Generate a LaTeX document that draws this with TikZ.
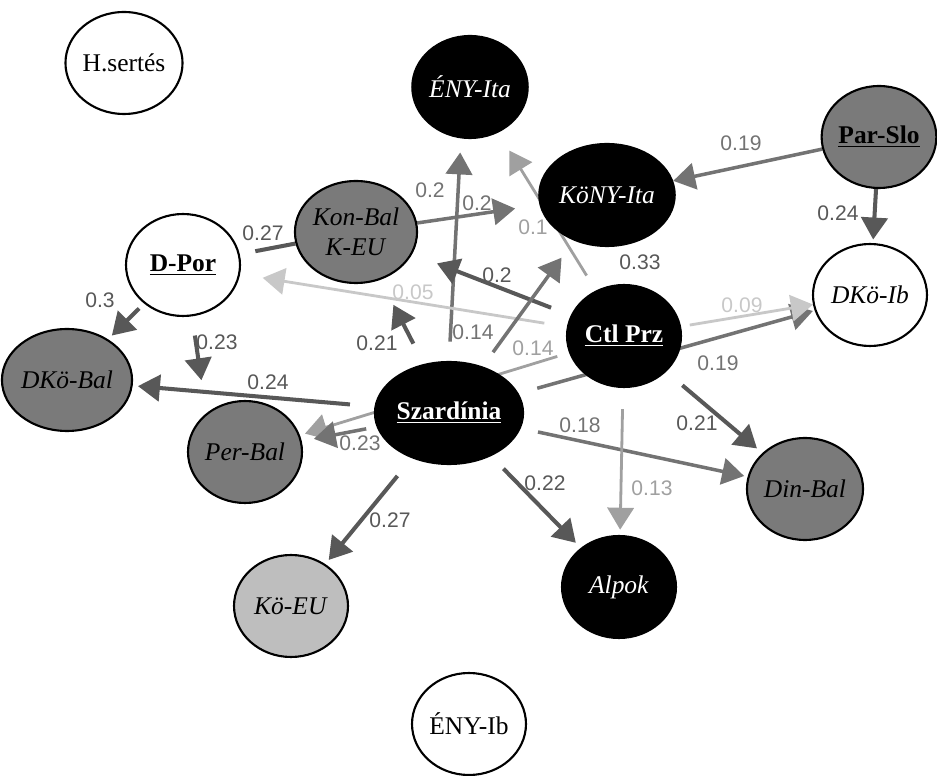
\documentclass[tikz,border=0pt]{standalone}
\usepackage{fontspec}
\setmainfont{Liberation Serif}
\setsansfont{Liberation Sans}
\usetikzlibrary{shapes.geometric,arrows.meta}
\pgfdeclarelayer{bg}
\pgfsetlayers{bg,main}
\definecolor{ndgray}{HTML}{7A7A7A}
\definecolor{ndlight}{HTML}{BEBEBE}
\definecolor{edark}{HTML}{585858}
\definecolor{emid}{HTML}{737373}
\definecolor{elight}{HTML}{A0A0A0}
\definecolor{efaint}{HTML}{C8C8C8}

\begin{document}
\begin{tikzpicture}[x=0.02cm,y=-0.02cm,
	nd/.style={ellipse,draw=black,line width=1.2pt,minimum width=2.28cm,minimum height=2.04cm,inner sep=0pt,align=center,font=\fontsize{14.5}{17}\selectfont},
	wnd/.style={nd,fill=white},
	gnd/.style={nd,fill=ndgray},
	lnd/.style={nd,fill=ndlight},
	bnd/.style={nd,fill=black,text=white},
	arr/.style={-{Triangle[length=12.5pt,width=15pt]}},
	edk/.style={arr,draw=edark,line width=2.3pt},
	emd/.style={arr,draw=emid,line width=2pt},
	elt/.style={arr,draw=elight,line width=1.6pt},
	eft/.style={arr,draw=efaint,line width=1.6pt},
	lbl/.style={font=\sffamily\fontsize{12}{12}\selectfont,inner sep=0pt}]
	\useasboundingbox (0,0) rectangle (937,776);
	%\draw[help lines] (0,0) grid[step=50] (937,776);
	\node[wnd] (hsertes) at (124,63) {H.sertés};
	\node[bnd] (enyita) at (470,87) {\textit{ÉNY-Ita}};
	\node[bnd] (konyita) at (607,195) {\textit{KöNY-Ita}};
	\node[gnd] (parslo) at (879,137) {\textbf{\underline{Par-Slo}}};
	\node[wnd] (dkoib) at (870,295) {\textit{DKö-Ib}};
	\node[gnd] (konbal) at (356,232) {\textit{Kon-Bal}\\\textit{K-EU}};
	\node[wnd] (dpor) at (183,265) {\textbf{\underline{D-Por}}};
	\node[gnd] (dkobal) at (67,380) {\textit{DKö-Bal}};
	\node[gnd] (perbal) at (245,452) {\textit{Per-Bal}};
	\node[bnd] (szard) at (449,413) {\textbf{\underline{Szardínia}}};
	\node[bnd] (ctlprz) at (624,336) {\textbf{\underline{Ctl Prz}}};
	\node[gnd] (dinbal) at (805,489) {\textit{Din-Bal}};
	\node[bnd] (alpok) at (619,587) {\textit{Alpok}};
	\node[lnd] (koeu) at (291,606) {\textit{Kö-EU}};
	\node[wnd] (enyib) at (469,724) {ÉNY-Ib};

	\begin{pgfonlayer}{bg}
	\draw[emd] (parslo) -- (konyita);
	\draw[edk,shorten >=2pt] (parslo) -- (dkoib);
	\draw[emd,shorten >=14pt] (konbal) -- (konyita);
	\draw[edk,-,shorten >=9pt] (konbal) -- (dpor);
	\draw[emd,shorten <=11pt,shorten >=8pt] (szard.north) -- (enyita.-100);
	\draw[edk,shorten <=12pt,shorten >=15pt] (ctlprz) -- (konbal);
	\draw[eft,shorten <=13pt,shorten >=13pt] (ctlprz) -- (dpor);
	\draw[edk,shorten <=13pt,shorten >=16pt] (szard) -- (konbal);
	\draw[emd,shorten <=10pt,shorten >=12pt] (szard) -- (konyita);
	\draw[elt,shorten <=7pt,shorten >=3pt] (ctlprz) -- (perbal);
	\draw[edk,shorten <=14pt,shorten >=3pt] (szard) -- (dkobal);
	\draw[emd,shorten <=6pt,shorten >=7pt] (szard) -- (perbal);
	\draw[edk,shorten <=13pt,shorten >=3pt] (szard) -- (koeu);
	\draw[edk,shorten <=10pt,shorten >=4pt] (szard) -- (alpok);
	\draw[emd,shorten <=10pt,shorten >=2pt] (szard) -- (dinbal);
	\draw[emd,shorten <=11pt,shorten >=1pt] (szard) -- (dkoib);
	\draw[eft,shorten <=5pt] (ctlprz) -- (dkoib);
	\draw[edk,shorten <=12pt,shorten >=4pt] (ctlprz) -- (dinbal);
	\draw[elt,shorten <=12pt,shorten >=3pt] (ctlprz) -- (alpok);
	\draw[elt,shorten <=10pt,shorten >=12pt] (ctlprz) -- (enyita);
	\draw[edk,shorten <=4pt,shorten >=3pt] (dpor) -- (dkobal);
	\draw[edk,shorten <=11pt,shorten >=19pt] (dpor.-80) -- (perbal.135);
	\end{pgfonlayer}

	% weights
	\node[lbl,text=emid] (w1) at (741,143) {0.19};
	\node[lbl,text=edark] (w2) at (838,213) {0.24};
	\node[lbl,text=emid] (w3) at (477,203) {0.2};
	\node[lbl,text=edark] (w4) at (263,233) {0.27};
	\node[lbl,text=emid] (w5) at (430,190) {0.2};
	\node[lbl,text=edark] (w6) at (497,275) {0.2};
	\node[lbl,text=efaint] (w7) at (413,292) {0.05};
	\node[lbl,text=edark] (w8) at (377,343) {0.21};
	\node[lbl,text=emid] (w9) at (473,332) {0.14};
	\node[lbl,text=elight] (w10) at (533,348) {0.14};
	\node[lbl,text=edark] (w11) at (268,382) {0.24};
	\node[lbl,text=emid] (w12) at (360,443) {0.23};
	\node[lbl,text=edark] (w13) at (390,520) {0.27};
	\node[lbl,text=edark] (w14) at (545,483) {0.22};
	\node[lbl,text=emid] (w15) at (580,425) {0.18};
	\node[lbl,text=emid] (w16) at (718,363) {0.19};
	\node[lbl,text=efaint] (w17) at (742,305) {0.09};
	\node[lbl,text=edark] (w18) at (697,423) {0.21};
	\node[lbl,text=elight] (w19) at (652,488) {0.13};
	\node[lbl,text=elight] (w20) at (533,227) {0.1};
	\node[lbl,text=edark] (w21) at (100,300) {0.3};
	\node[lbl,text=edark] (w22) at (217,342) {0.23};
	\node[lbl,text=edark] (w23) at (640,262) {0.33};
\end{tikzpicture}
\end{document}
